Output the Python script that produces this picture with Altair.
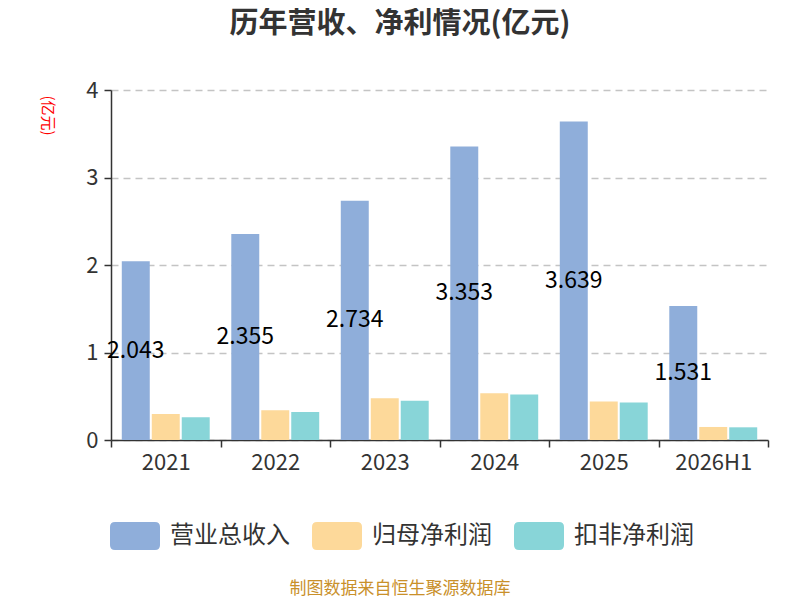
import altair as alt
import pandas as pd

years = ["2021", "2022", "2023", "2024", "2025", "2026H1"]
series_names = ["营业总收入", "归母净利润", "扣非净利润"]
revenue = [2.043, 2.355, 2.734, 3.353, 3.639, 1.531]
net_profit = [0.297, 0.340, 0.477, 0.533, 0.440, 0.149]
deducted_profit = [0.260, 0.320, 0.450, 0.520, 0.430, 0.145]
colors = ["#8FAEDA", "#FDD99A", "#88D5D8"]
title_text = "历年营收、净利情况(亿元)"
footer_text = "制图数据来自恒生聚源数据库"

rows = []
for s, vals in zip(series_names, [revenue, net_profit, deducted_profit]):
    for y, v in zip(years, vals):
        rows.append({"year": y, "series": s, "value": v})
df = pd.DataFrame(rows)
rev_df = pd.DataFrame({"year": years, "series": [series_names[0]] * len(years), "value": revenue})
footer_df = pd.DataFrame({"t": [footer_text]})

FONT = "Noto Sans CJK SC"
W, H = 657, 350

x_enc = alt.X(
    "year:N", sort=years, title=None,
    scale=alt.Scale(paddingInner=0, paddingOuter=0),
    axis=alt.Axis(
        tickBand="extent", labelAngle=0, labelFontSize=22, labelColor="#333",
        labelFont=FONT, domainColor="#333", tickColor="#333", tickSize=7,
        domainWidth=1.5, tickWidth=1.5, labelPadding=5, grid=False,
    ),
)
xoff_enc = alt.XOffset(
    "series:N", sort=series_names,
    scale=alt.Scale(domain=series_names, paddingInner=0.067, paddingOuter=0.36),
)
y_scale = alt.Scale(domain=[0, 4], nice=False)

bars = alt.Chart(df).mark_bar().encode(
    x=x_enc,
    xOffset=xoff_enc,
    y=alt.Y(
        "value:Q", scale=y_scale,
        axis=alt.Axis(
            values=[0, 1, 2, 3, 4], format="d", title="(亿元)", titleColor="red",
            titleFontSize=15, titleFont=FONT, titleFontWeight="normal",
            titleAngle=90, titleX=-64, titleY=25, titleAlign="center",
            titleBaseline="middle",
            labelFontSize=22, labelColor="#333", labelFont=FONT, labelPadding=6,
            domainColor="#333", tickColor="#333", tickSize=7, domainWidth=1.5,
            tickWidth=1.5, gridColor="#c4c4c4", gridDash=[7, 5], gridWidth=1.3,
        ),
    ),
    color=alt.Color(
        "series:N", sort=series_names,
        scale=alt.Scale(domain=series_names, range=colors),
        legend=alt.Legend(
            title=None, orient="none", direction="horizontal",
            legendX=-1, legendY=421,
            symbolType="M-0.8,-0.56L0.8,-0.56Q1,-0.56 1,-0.36L1,0.36Q1,0.56 0.8,0.56L-0.8,0.56Q-1,0.56 -1,0.36L-1,-0.36Q-1,-0.56 -0.8,-0.56Z",
            symbolSize=2500, symbolStrokeWidth=0, symbolOpacity=1,
            labelFontSize=24, labelFont=FONT, labelColor="#333",
            labelOffset=10, columnPadding=22, labelLimit=300,
        ),
    ),
)

labels = alt.Chart(rev_df).transform_calculate(
    half="datum.value / 2"
).mark_text(fontSize=23, font=FONT, color="black", baseline="middle", align="center").encode(
    x=alt.X("year:N", sort=years),
    xOffset=alt.XOffset("series:N", sort=series_names),
    y=alt.Y("half:Q", scale=y_scale),
    text=alt.Text("value:Q", format=".3f"),
)

footer = alt.Chart(footer_df).mark_text(
    fontSize=17, font=FONT, color="#C9902A", align="center", baseline="middle"
).encode(
    x=alt.value(400 - 111), y=alt.value(589 - 90), text="t:N"
)

chart = alt.layer(bars, labels, footer).properties(
    width=W, height=H,
    padding={"left": 103, "top": 82, "right": 24, "bottom": 158},
    autosize=alt.AutoSizeParams(type="none"),
    title=alt.TitleParams(
        text=title_text, fontSize=29, font=FONT, fontWeight="bold", color="#333",
        anchor="middle", frame="group", dx=-39.5, offset=40,
    ),
).configure_view(stroke=None)

chart.save("out.html", embed_options={"renderer": "svg", "actions": False})
